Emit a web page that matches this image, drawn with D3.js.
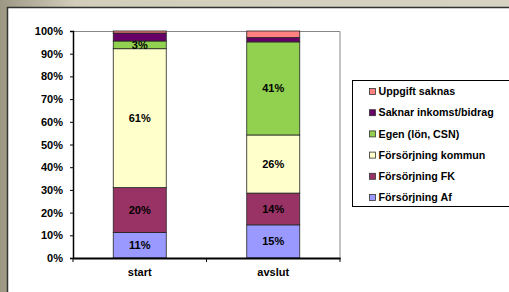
<!DOCTYPE html>
<html>
<head>
<meta charset="utf-8">
<script src="https://cdn.jsdelivr.net/npm/d3@7"></script>
<style>
  body { margin: 0; background: #ccc8b6; }
  svg { display: block; font-family: Arial, "Liberation Sans", sans-serif; }
</style>
</head>
<body>
<svg id="chart"></svg>
<script>
/*
    CHART DATA
*/
var categories = ["start", "avslut"];
var seriesNames = ["Försörjning Af", "Försörjning FK", "Försörjning kommun",
                   "Egen (lön, CSN)", "Saknar inkomst/bidrag", "Uppgift saknas"];
var seriesColors = ["#9999ff", "#993366", "#ffffcc", "#92d050", "#660066", "#ff8080"];
var startValues = [11.2, 19.8, 61.2, 3.4, 3.5, 0.9];
var avslutValues = [14.6, 14.0, 25.6, 41.0, 1.9, 2.9];
var labelled = [true, true, true, true, false, false];
var yTicks = [0, 10, 20, 30, 40, 50, 60, 70, 80, 90, 100];

var width = 509, height = 292;
var margin = {top: 31, left: 73, bottom: 34, right: 169};
var w = 340 - margin.left;
var h = 258 - margin.top;

var svg = d3.select("#chart").attr("width", width).attr("height", height);

// outer frame
var defs = svg.append("defs");
var grad = defs.append("linearGradient").attr("id", "bg").attr("x1", 0).attr("x2", 1).attr("y1", 0).attr("y2", 0);
grad.append("stop").attr("offset", "0").attr("stop-color", "#9c9884");
grad.append("stop").attr("offset", "0.15").attr("stop-color", "#d2cebb");
grad.append("stop").attr("offset", "1").attr("stop-color", "#d6d3c3");
svg.append("rect").attr("width", width).attr("height", height).attr("fill", "url(#bg)");
svg.append("rect").attr("x", 7.5).attr("y", 7.5).attr("width", width).attr("height", height)
  .attr("fill", "#fff").attr("stroke", "#333").attr("stroke-width", 1.5);

var g = svg.append("g").attr("transform", "translate(" + margin.left + "," + margin.top + ")");

var x = d3.scaleBand().domain(categories).range([0, w]).paddingInner(0).paddingOuter(0);
var y = d3.scaleLinear().domain([0, 100]).range([h, 0]);
var barW = 53;

// plot border (top/right grey)
g.append("path").attr("d", "M0,0.5H" + w + "V" + h)
  .attr("fill", "none").attr("stroke", "#888").attr("stroke-width", 1);

var table = categories.map(function(c, i) {
  var vals = i == 0 ? startValues : avslutValues;
  var row = {cat: c};
  seriesNames.forEach(function(s, j) { row[s] = vals[j]; });
  return row;
});
var stacked = d3.stack().keys(seriesNames)(table);

stacked.forEach(function(layer, j) {
  var grp = g.append("g");
  layer.forEach(function(d) {
    var cx = x(d.data.cat) + x.bandwidth() / 2;
    grp.append("rect")
      .attr("x", cx - barW / 2)
      .attr("y", y(d[1]))
      .attr("width", barW)
      .attr("height", y(d[0]) - y(d[1]))
      .attr("fill", seriesColors[j])
      .attr("stroke", "#222").attr("stroke-width", 0.8);
    if (labelled[j]) {
      grp.append("text")
        .attr("x", cx).attr("y", (y(d[0]) + y(d[1])) / 2)
        .attr("dy", "0.35em").attr("text-anchor", "middle")
        .attr("font-size", "11px").attr("font-weight", "bold").attr("fill", "#000")
        .text(Math.round(d[1] - d[0]) + "%");
    }
  });
});

// y axis
var yAxis = g.append("g").call(d3.axisLeft(y).tickValues(yTicks).tickSize(3).tickFormat(function(d) { return d + "%"; }));
yAxis.select(".domain").attr("stroke", "#000").attr("stroke-width", 1.5);
yAxis.selectAll(".tick line").attr("stroke", "#000");
yAxis.selectAll("text").attr("font-size", "11px").attr("font-weight", "bold")
  .attr("font-family", "Arial, 'Liberation Sans', sans-serif").attr("fill", "#000").attr("x", -10);

// x axis
var xAxis = g.append("g").attr("transform", "translate(0," + h + ")")
  .call(d3.axisBottom(x).tickSize(0).tickPadding(10));
xAxis.select(".domain").attr("stroke", "#000").attr("stroke-width", 2);
xAxis.selectAll("text").attr("font-size", "11px").attr("font-weight", "bold")
  .attr("font-family", "Arial, 'Liberation Sans', sans-serif").attr("fill", "#000");
[0, w / 2, w].forEach(function(t) {
  xAxis.append("line").attr("x1", t).attr("x2", t).attr("y1", 0).attr("y2", 4)
    .attr("stroke", "#000").attr("stroke-width", 1);
});

// legend
var legend = svg.append("g").attr("transform", "translate(352.5,80.5)");
legend.append("rect").attr("width", 170).attr("height", 126)
  .attr("fill", "#fff").attr("stroke", "#000").attr("stroke-width", 1);
var order = d3.range(seriesNames.length).reverse();
order.forEach(function(j, k) {
  var ly = 11 + k * 21.2;
  legend.append("rect").attr("x", 17).attr("y", ly - 3).attr("width", 6).attr("height", 6)
    .attr("fill", seriesColors[j]).attr("stroke", "#333").attr("stroke-width", 0.8);
  legend.append("text").attr("x", 26).attr("y", ly).attr("dy", "0.35em")
    .attr("font-size", "10.7px").attr("font-weight", "bold").attr("fill", "#000")
    .text(seriesNames[j]);
});
</script>
</body>
</html>
